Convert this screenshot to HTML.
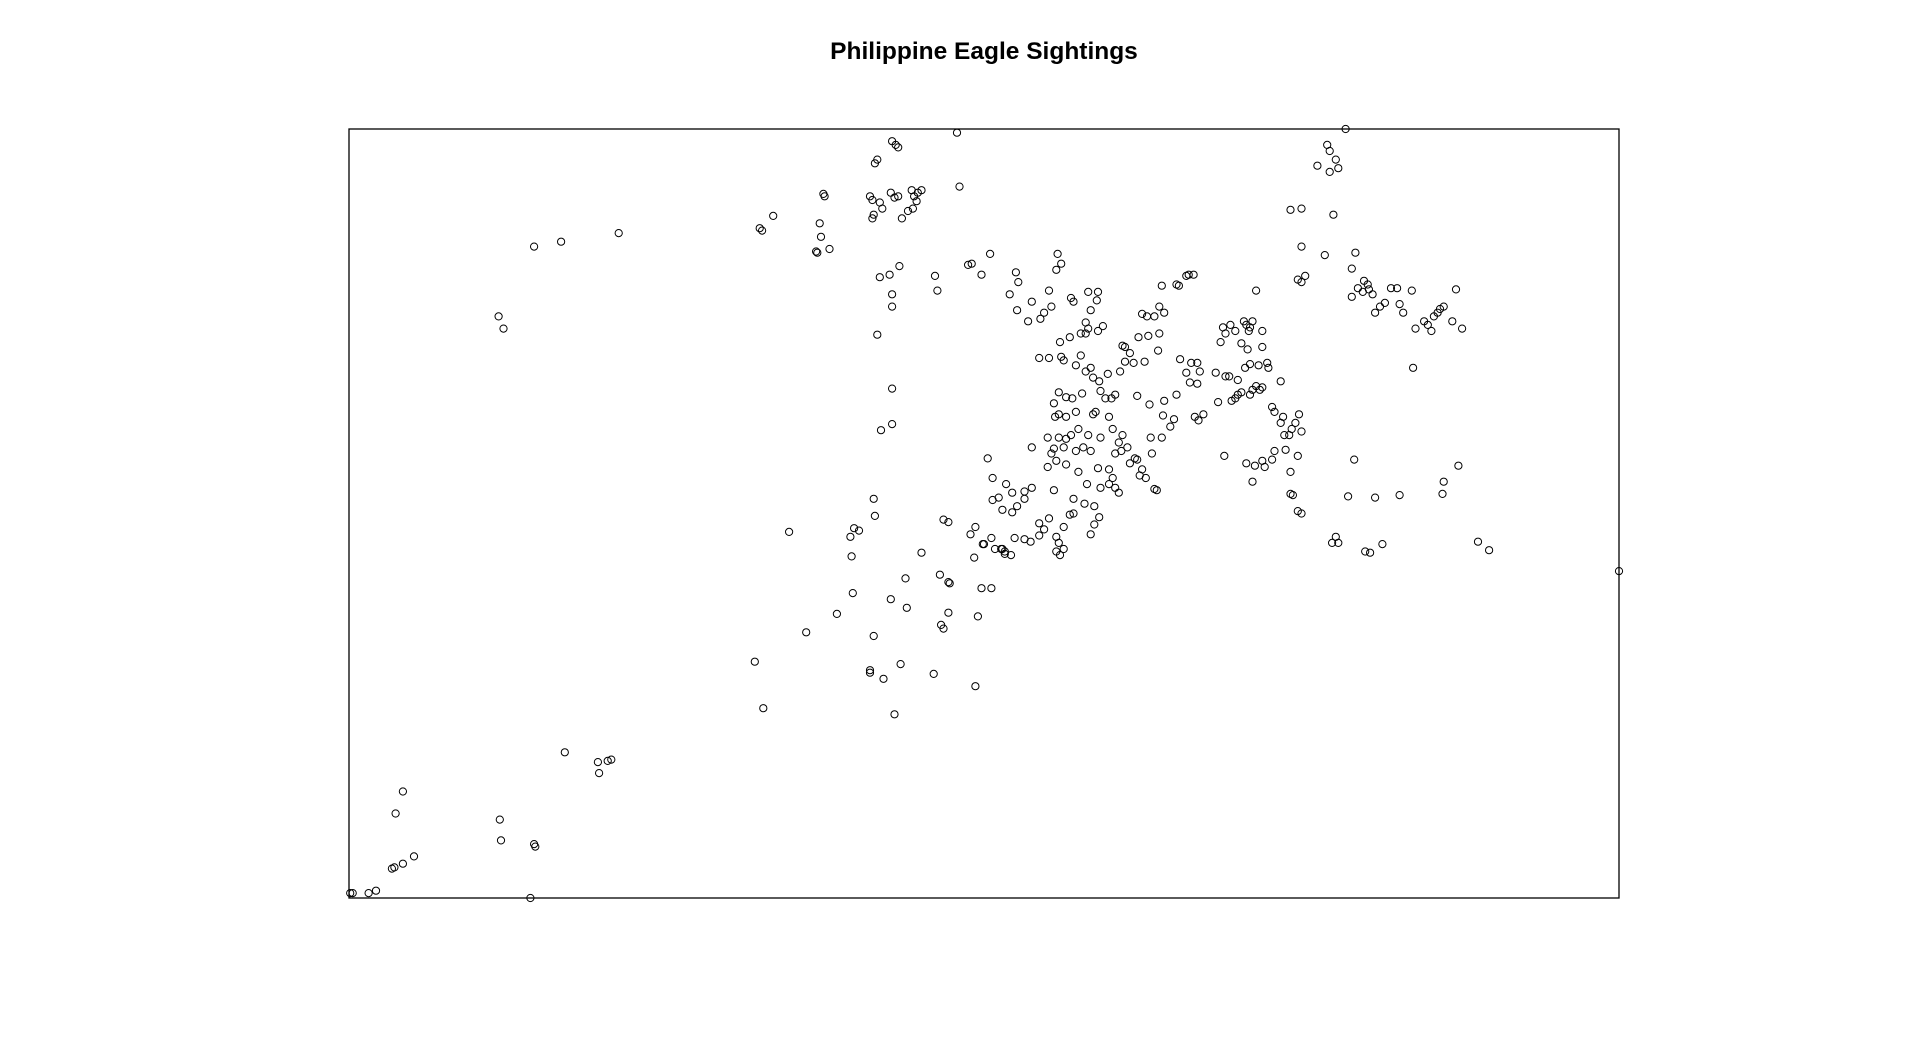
<!DOCTYPE html>
<html><head><meta charset="utf-8"><style>
html,body{margin:0;padding:0;background:#fff;}
svg{display:block;}
</style></head><body>
<svg id="chart" width="1920" height="1052" xmlns="http://www.w3.org/2000/svg">
<text x="984" y="59" text-anchor="middle" font-family="Liberation Sans, sans-serif" font-weight="bold" font-size="24.5">Philippine Eagle Sightings</text>
<rect x="349" y="129" width="1270" height="769" fill="none" stroke="#000" stroke-width="1.3"/>
<g id="pts"></g>
</svg>
<script>
// sighting positions (x, y in relative map units)
const xs = [];
const ys = [];
const raw = [436,201,458,197,505,190,407,258,411,268,
329,646,323,664,338,699,329,705,322,708,320,709,286,729,288,729,301,729,307,727,408,669,409,686,436,689,437,691,433,733,461,614,488,622,489,631,496,621,499,620,
644,434,616,540,623,578,658,516,683,501,696,484,695,454,694,438,697,431,701,433,713,407,714,421,
710,547,710,549,721,554,730,583,713,519,727,489,735,542,740,496,739,472,752,451,762,550,767,469,768,510,770,513,774,475,775,476,774,500,798,503,796,560,801,480,809,480,795,455,792,436,796,430,770,424,774,426,803,444,809,439,817,448,820,452,825,453,828,439,836,440,841,442,848,437,
728,115,731,118,733,120,781,108,716,130,714,133,672,158,673,160,710,160,712,163,718,165,727,157,730,161,733,160,744,155,749,157,752,155,746,160,748,164,741,172,736,178,745,170,720,170,713,175,712,178,783,152,620,186,622,188,631,176,669,182,670,193,666,205,667,206,677,203,718,226,726,224,734,217,728,240,728,250,716,273,763,225,765,237,790,216,793,215,801,224,808,207,728,317,728,346,719,351,
863,207,866,215,862,220,829,222,831,230,824,240,842,246,856,237,858,250,852,255,830,253,839,262,849,260,874,243,876,246,888,238,896,238,895,245,890,253,886,263,888,268,882,272,886,272,896,270,900,266,873,275,865,279,848,292,856,292,866,291,868,294,882,290,890,300,886,303,878,298,892,308,897,311,904,305,898,319,902,325,883,321,875,325,870,324,864,320,860,329,861,340,864,338,870,340,878,336,892,338,894,336,880,350,874,355,864,357,870,358,868,365,860,366,858,370,855,381,862,376,870,379,878,368,884,365,888,355,905,340,908,350,898,357,890,368,880,385,896,382,905,383,908,390,910,398,913,402,905,395,898,398,887,395,876,407,873,420,868,430,862,438,864,443,865,453,862,450,868,448,876,419,885,411,893,413,897,422,893,428,890,436,856,423,860,400,842,398,836,407,830,413,826,418,818,416,815,406,821,395,826,402,810,408,810,390,806,374,842,365,855,357,836,401,848,427,852,432,820,450,818,448,812,448,802,444,
910,370,915,368,920,365,922,378,926,374,916,355,913,361,939,357,948,357,958,342,955,348,949,339,940,370,935,390,942,399,944,400,928,375,932,383,930,388,914,303,918,295,918,283,916,282,922,288,925,296,934,295,929,275,937,274,932,256,936,258,946,250,950,255,942,258,946,272,945,286,963,293,972,296,977,296,979,303,968,304,971,312,977,313,960,322,928,323,938,330,950,327,975,340,978,343,982,338,948,233,960,232,962,233,968,225,970,224,974,224,907,325,910,322,
1025,237,1004,265,998,267,1000,272,1008,270,1015,262,1017,265,1020,267,1022,262,1030,270,1019,270,1013,280,1018,285,1030,283,996,279,992,304,1000,307,1003,307,1010,310,1016,300,1020,297,1027,298,1034,296,1035,300,1045,311,1025,315,1022,318,1020,322,1013,320,1008,325,1010,322,1030,316,1028,318,1005,327,994,328,1040,336,1038,332,1047,340,1045,345,1052,355,1054,350,1057,345,1060,338,1062,352,1049,367,1040,368,1038,375,1030,376,1024,380,1017,378,1032,381,1022,393,1048,355,999,372,1053,385,1059,372,1053,403,1055,404,1059,417,1062,419,
1053,171,1062,170,1088,175,1081,208,1062,201,1059,228,1062,230,1065,225,1083,118,1085,123,1090,130,1092,137,1075,135,1085,140,1098,105,1103,219,1106,206,1103,242,1108,235,1112,238,1117,236,1113,229,1116,232,1120,240,1122,255,1126,250,1130,247,1135,235,1140,235,1142,248,1145,255,1152,237,1155,268,1162,262,1165,265,1168,270,1170,258,1173,255,1175,252,1178,250,1185,262,1188,236,1193,268,1153,300,1105,375,1100,405,1122,406,1142,404,1178,393,1177,403,1190,380,1206,442,1215,449,1128,444,1114,450,1118,451,1087,443,1090,438,1092,443,1321,466];
for (let i = 0; i < raw.length; i += 2) { xs.push(raw[i] - 285); ys.push(733 - raw[i+1]); }

const xDomain = [0, 1036], yDomain = [0, 628];
const X0 = 349, X1 = 1619, Y0 = 898, Y1 = 129;
function sx(v){ return X0 + (v - xDomain[0]) / (xDomain[1] - xDomain[0]) * (X1 - X0); }
function sy(v){ return Y0 - (v - yDomain[0]) / (yDomain[1] - yDomain[0]) * (Y0 - Y1); }

const g = document.getElementById('pts');
const NS = 'http://www.w3.org/2000/svg';
for (let i = 0; i < xs.length; i++) {
  const c = document.createElementNS(NS, 'circle');
  c.setAttribute('cx', sx(xs[i]).toFixed(1));
  c.setAttribute('cy', sy(ys[i]).toFixed(1));
  c.setAttribute('r', '3.6');
  c.setAttribute('fill', 'none');
  c.setAttribute('stroke', '#000');
  c.setAttribute('stroke-width', '1');
  
  
  g.appendChild(c);
}
</script>
</body></html>
